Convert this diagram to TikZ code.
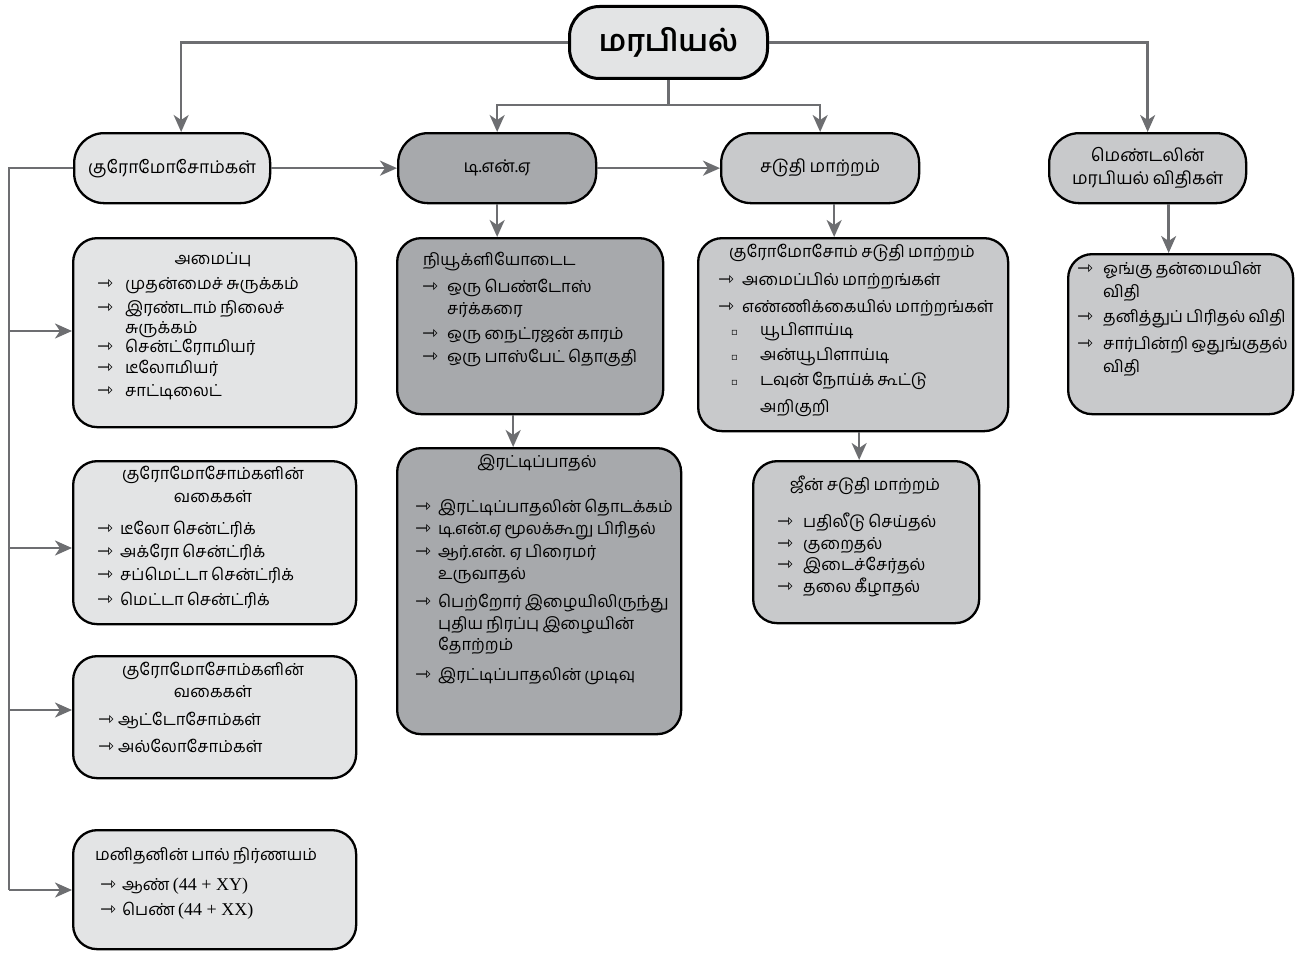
\documentclass[tikz,border=0pt]{standalone}
\usepackage{fontspec}
\setmainfont[Script=Tamil,WordSpace=0.8]{Hind Madurai}
\newfontfamily\symf{DejaVu Sans}
\newfontfamily\serf{Liberation Serif}
\usetikzlibrary{arrows.meta}
\definecolor{lightfill}{HTML}{E3E4E5}
\definecolor{midfill}{HTML}{C8C9CB}
\definecolor{darkfill}{HTML}{A7A9AC}
\definecolor{linegray}{HTML}{6D6E71}
\newcommand\bul[1][25pt]{\makebox[#1][l]{\symf\fontsize{19}{19}\selectfont ⇾}\ignorespaces}
\newcommand\sqb{\makebox[29pt][l]{\symf\fontsize{10}{10}\selectfont ▫}\ignorespaces}
\tikzset{
  box/.style={draw=black, line width=2.3pt, anchor=north west, inner sep=0pt,
    rounded corners=24pt, font=\fontsize{17.5}{23}\selectfont, align=center},
  headbox/.style={box, rounded corners=30pt},
  conn/.style={draw=linegray, line width=2.4pt,
    -{Stealth[length=17pt,width=15pt,inset=5pt]}},
  plain/.style={draw=linegray, line width=2.4pt},
  txt/.style={inner sep=0pt, anchor=mid west, font=\fontsize{16.5}{20}\selectfont},
  ctxt/.style={txt, anchor=mid},
}
\begin{document}
\begin{tikzpicture}[x=1pt,y=-1pt]
\useasboundingbox (0,0) rectangle (1313,955);
% ---- boxes ----
\node[headbox, fill=lightfill, line width=3pt, minimum width=198pt, minimum height=72pt,
      font=\fontsize{30}{34}\selectfont\bfseries] (root) at (568,5) {மரபியல்};
\node[headbox, fill=lightfill, minimum width=196pt, minimum height=70pt] (chrom) at (73,132) {குரோமோசோம்கள்};
\node[headbox, fill=darkfill, minimum width=198pt, minimum height=70pt] (dna) at (397,132) {டி.என்.ஏ};
\node[headbox, fill=midfill, minimum width=198pt, minimum height=70pt] (sad) at (720,132) {சடுதி மாற்றம்};
\node[headbox, fill=midfill, minimum width=197pt, minimum height=70pt] (mendel) at (1048,132) {மெண்டலின்\\மரபியல் விதிகள்};

\node[box, fill=lightfill, minimum width=283pt, minimum height=189pt] (amaippu) at (72,237) {};
\node[box, fill=lightfill, minimum width=283pt, minimum height=163pt] (types1) at (72,460) {};
\node[box, fill=lightfill, minimum width=283pt, minimum height=122pt] (types2) at (72,655) {};
\node[box, fill=lightfill, minimum width=283pt, minimum height=119pt] (sex) at (72,829) {};
\node[box, fill=darkfill, minimum width=266pt, minimum height=176pt] (nuc) at (396,237) {};
\node[box, fill=darkfill, minimum width=284pt, minimum height=286pt] (rep) at (396,447) {};
\node[box, fill=midfill, minimum width=310pt, minimum height=193pt] (cmut) at (697,237) {};
\node[box, fill=midfill, minimum width=226pt, minimum height=162pt] (gmut) at (752,460) {};
\node[box, fill=midfill, minimum width=225pt, minimum height=160pt] (mlist) at (1067,253) {};

% ---- connectors ----
\draw[conn] (root.west) -| ([xshift=9pt]chrom.north);
\draw[conn] (root.east) -| (mendel.north);
\coordinate (split) at (root.south |- 0,105);
\draw[plain] (root.south) -- (split);
\draw[conn] (split) -| (dna.north);
\draw[conn] (split) -| (sad.north);
\draw[conn] (chrom.east) -- (dna.west);
\draw[conn] (dna.east) -- (sad.west);
\draw[conn] (dna.south) -- (dna.south |- nuc.north);
\draw[conn] ([xshift=-17pt]nuc.south) -- ([xshift=-17pt]nuc.south |- rep.north);
\draw[conn] ([xshift=14pt]sad.south) -- ([xshift=14pt]sad.south |- cmut.north);
\draw[conn] ([xshift=6pt]cmut.south) -- ([xshift=6pt]cmut.south |- gmut.north);
\draw[conn] ([xshift=21pt]mendel.south) -- ([xshift=21pt]mendel.south |- mlist.north);
\coordinate (t0) at (9,0 |- chrom.west);
\coordinate (t1) at (9,331);
\coordinate (t2) at (9,548);
\coordinate (t3) at (9,710);
\coordinate (t4) at (9,890);
\draw[plain] (chrom.west) -- (t0) -- (t4);
\draw[conn] (t1) -- (t1 -| amaippu.west);
\draw[conn] (t2) -- (t2 -| types1.west);
\draw[conn] (t3) -- (t3 -| types2.west);
\draw[conn] (t4) -- (t4 -| sex.west);

% ---- amaippu ----
\node[ctxt] (a0) at (213,262) {அமைப்பு};
\node[txt] (a1) at (97,287) {\bul[28pt] முதன்மைச் சுருக்கம்};
\node[txt] (a2) at (97,311) {\bul[28pt] இரண்டாம் நிலைச்};
\node[txt] (a2b) at (125,331) {சுருக்கம்};
\node[txt] (a3) at (97,350) {\bul[28pt] சென்ட்ரோமியர்};
\node[txt] (a4) at (97,371) {\bul[28pt] டீலோமியர்};
\node[txt] (a5) at (97,394) {\bul[28pt] சாட்டிலைட்};
% ---- types1 ----
\node[ctxt] (b0) at (213,477) {குரோமோசோம்களின்};
\node[ctxt] (b0b) at (213,500) {வகைகள்};
\node[txt] (b1) at (97,532) {\bul[23pt] டீலோ சென்ட்ரிக்};
\node[txt] (b2) at (97,555) {\bul[23pt] அக்ரோ சென்ட்ரிக்};
\node[txt] (b3) at (97,578) {\bul[23pt] சப்மெட்டா சென்ட்ரிக்};
\node[txt] (b4) at (97,603) {\bul[23pt] மெட்டா சென்ட்ரிக்};
% ---- types2 ----
\node[ctxt] (c0) at (213,673) {குரோமோசோம்களின்};
\node[ctxt] (c0b) at (213,695) {வகைகள்};
\node[txt] (c1) at (98,723) {\bul[20pt] ஆட்டோசோம்கள்};
\node[txt] (c2) at (98,750) {\bul[20pt] அல்லோசோம்கள்};
% ---- sex ----
\node[txt] (d0) at (95,858) {மனிதனின் பால் நிர்ணயம்};
\node[txt] (d1) at (100,888) {\bul[22pt] ஆண் {\serf\fontsize{18}{20}\selectfont (44 + XY)}};
\node[txt] (d2) at (100,913) {\bul[22pt] பெண் {\serf\fontsize{18}{20}\selectfont (44 + XX)}};
% ---- nucleotide ----
\node[txt] (e0) at (423,263) {நியூக்ளியோடைட};
\node[txt] (e1) at (422,290) {\bul ஒரு பெண்டோஸ்};
\node[txt] (e1b) at (447,312) {சர்க்கரை};
\node[txt] (e2) at (422,337) {\bul ஒரு நைட்ரஜன் காரம்};
\node[txt] (e3) at (422,360) {\bul ஒரு பாஸ்பேட் தொகுதி};
% ---- replication ----
\node[ctxt] (f0) at (537,465) {இரட்டிப்பாதல்};
\node[txt] (f1) at (415,510) {\bul[23pt] இரட்டிப்பாதலின் தொடக்கம்};
\node[txt] (f2) at (415,532) {\bul[23pt] டி.என்.ஏ மூலக்கூறு பிரிதல்};
\node[txt] (f3) at (415,555) {\bul[23pt] ஆர்.என். ஏ பிரைமர்};
\node[txt] (f3b) at (438,577) {உருவாதல்};
\node[txt] (f4) at (415,605) {\bul[23pt] பெற்றோர் இழையிலிருந்து};
\node[txt] (f4b) at (438,627) {புதிய நிரப்பு இழையின்};
\node[txt] (f4c) at (438,648) {தோற்றம்};
\node[txt] (f5) at (415,678) {\bul[23pt] இரட்டிப்பாதலின் முடிவு};
% ---- chromosomal mutation ----
\node[ctxt] (g0) at (852,255) {குரோமோசோம் சடுதி மாற்றம்};
\node[txt] (g1) at (718,283) {\bul[24pt] அமைப்பில் மாற்றங்கள்};
\node[txt] (g2) at (718,310) {\bul[24pt] எண்ணிக்கையில் மாற்றங்கள்};
\node[txt] (g3) at (731,333) {\sqb யூபிளாய்டி};
\node[txt] (g4) at (731,358) {\sqb அன்யூபிளாய்டி};
\node[txt] (g5) at (731,383) {\sqb டவுன் நோய்க் கூட்டு};
\node[txt] (g5b) at (760,410) {அறிகுறி};
% ---- gene mutation ----
\node[ctxt] (h0) at (865,488) {ஜீன் சடுதி மாற்றம்};
\node[txt] (h1) at (777,525) {\bul[26pt] பதிலீடு செய்தல்};
\node[txt] (h2) at (777,547) {\bul[26pt] குறைதல்};
\node[txt] (h3) at (777,568) {\bul[26pt] இடைச்சேர்தல்};
\node[txt] (h4) at (777,590) {\bul[26pt] தலை கீழாதல்};
% ---- mendel list ----
\node[txt] (m1) at (1077,272) {\bul[26pt] ஓங்கு தன்மையின்};
\node[txt] (m1b) at (1103,295) {விதி};
\node[txt] (m2) at (1077,320) {\bul[26pt] தனித்துப் பிரிதல் விதி};
\node[txt] (m3) at (1077,347) {\bul[26pt] சார்பின்றி ஒதுங்குதல்};
\node[txt] (m3b) at (1103,370) {விதி};
\end{tikzpicture}
\end{document}
